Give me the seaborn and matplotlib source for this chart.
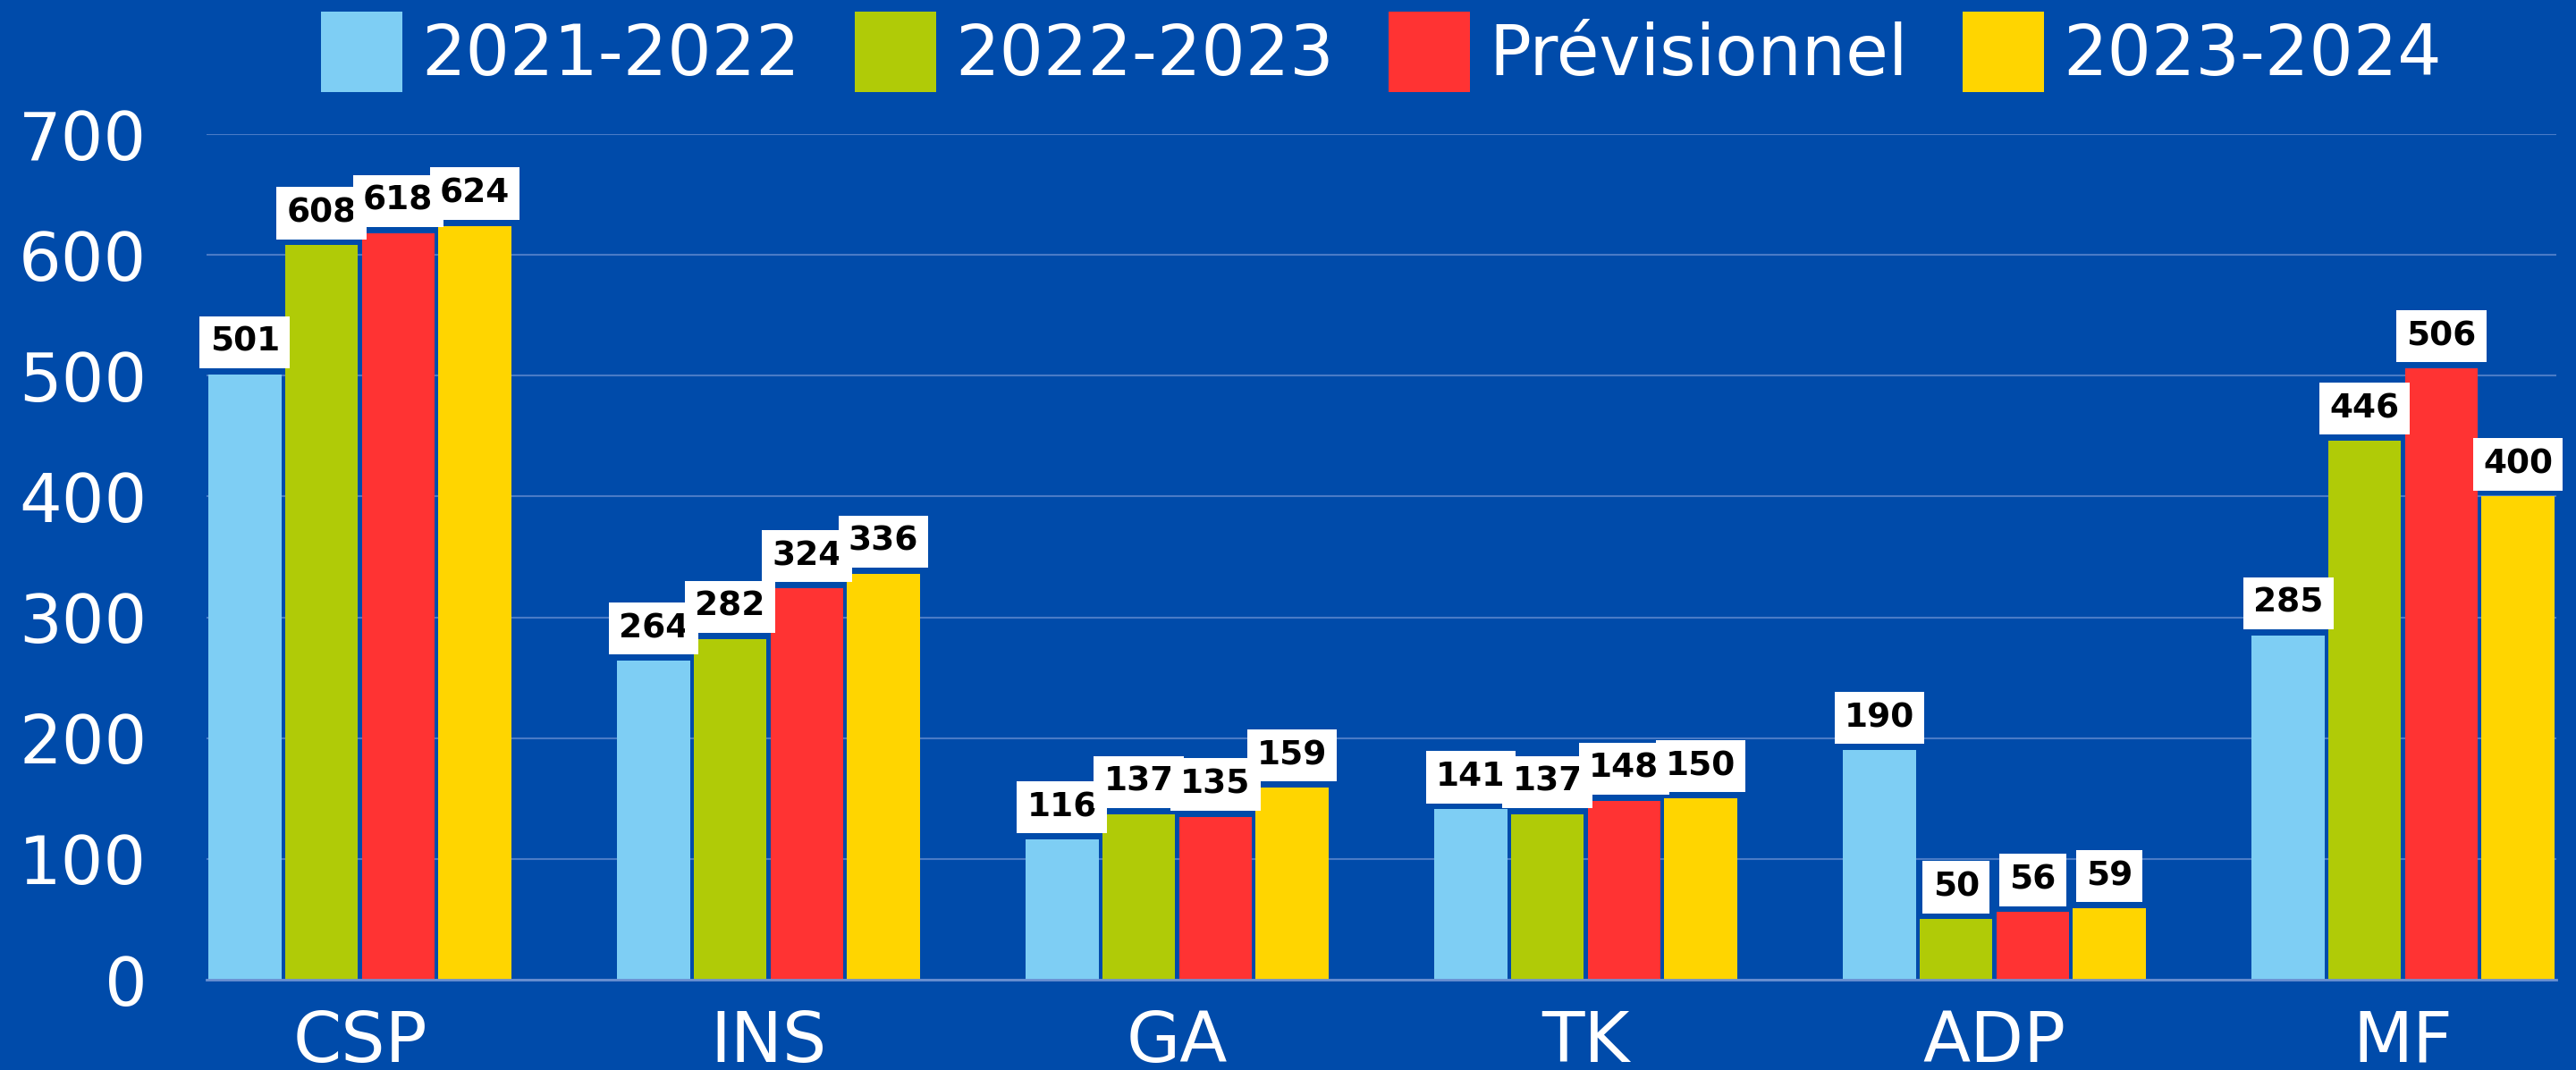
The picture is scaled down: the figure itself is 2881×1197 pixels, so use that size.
import numpy as np
import pandas as pd
import matplotlib
matplotlib.use("Agg")
import matplotlib.pyplot as plt
import seaborn as sns

categories = ["CSP", "INS", "GA", "TK", "ADP", "MF"]
series = ["2021-2022", "2022-2023", "Prévisionnel", "2023-2024"]
v_2021_2022 = [501, 264, 116, 141, 190, 285]
v_2022_2023 = [608, 282, 137, 137, 50, 446]
v_previsionnel = [618, 324, 135, 148, 56, 506]
v_2023_2024 = [624, 336, 159, 150, 59, 400]
colors = ["#7ECEF4", "#B0CB07", "#FF3333", "#FFD500"]

BG = "#004BAA"
GRID = "#4A7BC6"

rows = []
for name, vals in zip(series, [v_2021_2022, v_2022_2023, v_previsionnel, v_2023_2024]):
    for c, v in zip(categories, vals):
        rows.append({"cat": c, "serie": name, "val": v})
df = pd.DataFrame(rows)

plt.rcParams['font.family'] = ['DejaVu Sans']

W, H = 2881, 1197
fig = plt.figure(figsize=(W / 100, H / 100), dpi=100, facecolor=BG)
ax = fig.add_axes([231 / W, 101 / H, 2628 / W, 946 / H])
ax.set_facecolor(BG)

sns.barplot(data=df, x="cat", y="val", hue="serie", order=categories,
            hue_order=series, palette=dict(zip(series, colors)),
            width=0.75, gap=0.05, saturation=1, ax=ax, linewidth=0)

ax.set_xlim(-0.375, len(categories) - 1 + 0.375)
ax.set_ylim(0, 700)
ax.set_yticks(np.arange(0, 701, 100))
ax.yaxis.grid(True, color=GRID, linewidth=1.5)
ax.set_axisbelow(True)
for s in ["top", "right", "left"]:
    ax.spines[s].set_visible(False)
ax.spines["bottom"].set_color("#6A90D2")
ax.spines["bottom"].set_linewidth(2)
ax.tick_params(axis="both", length=0, labelcolor="white")
ax.tick_params(axis="y", pad=48, labelsize=54)
ax.tick_params(axis="x", pad=23, labelsize=56)
ax.set_xlabel("")
ax.set_ylabel("")

for cont in ax.containers:
    ax.bar_label(cont, fmt="%d", padding=13, fontsize=27, fontweight="bold",
                 color="black",
                 bbox=dict(boxstyle="square,pad=0.3", fc="white", ec="none"))

handles, labels = ax.get_legend_handles_labels()
ax.get_legend().remove()
fig.legend(handles, labels, loc="center", bbox_to_anchor=(1545 / W, 1 - 58 / H),
           ncol=4, frameon=False, fontsize=56, labelcolor="white",
           handlelength=1.17, handleheight=1.4, handletextpad=0.28,
           columnspacing=0.78)

fig.savefig("out.png", dpi=100, facecolor=BG)
